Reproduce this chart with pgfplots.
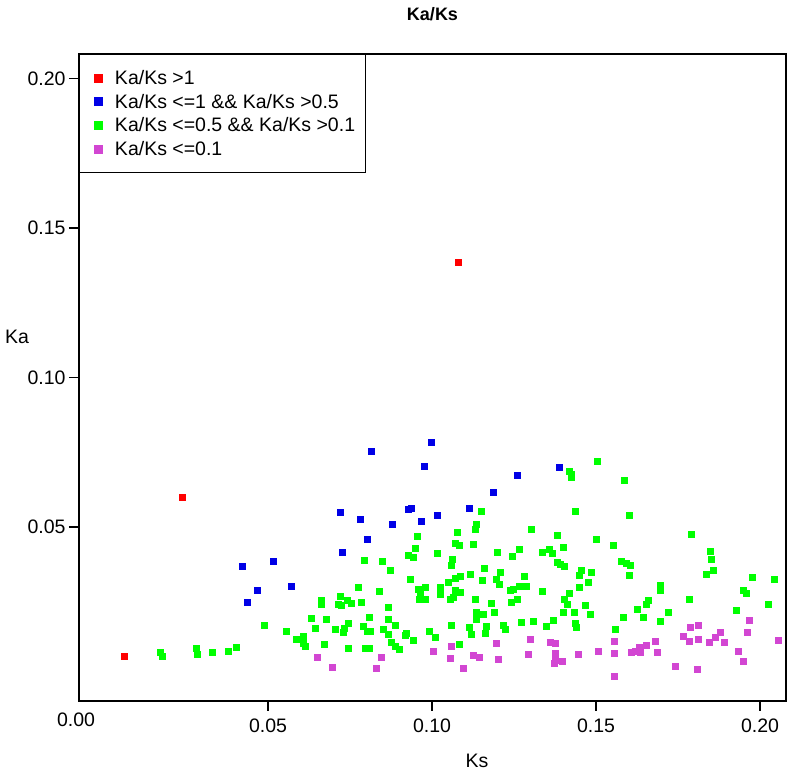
\documentclass[border=0pt]{standalone}
\usepackage{fontspec}
\setmainfont{Liberation Sans}
\usepackage{pgfplots}
\pgfplotsset{compat=1.18}
\definecolor{cred}{RGB}{255,0,0}
\definecolor{cblue}{RGB}{0,0,230}
\definecolor{cgreen}{RGB}{0,255,0}
\definecolor{cmag}{RGB}{210,70,210}
\newcommand{\f}{\fontsize{19.5}{23}\selectfont}
\begin{document}
\begin{tikzpicture}
\path[use as bounding box] (-79pt,-74pt) rectangle (714pt,701pt);
\begin{axis}[
  scale only axis, width=707pt, height=647pt,
  xmin=-0.00762, xmax=0.20793, ymin=-0.00819, ymax=0.20819,
  axis line style={line width=1.4pt},
  tick align=outside, tick pos=left,
  major tick length=10pt,
  every tick/.style={black, line width=1.2pt},
  xtick={0.05,0.1,0.15,0.2}, xticklabels={0.05,0.10,0.15,0.20},
  ytick={0.05,0.1,0.15,0.2}, yticklabels={0.05,0.10,0.15,0.20},
  extra x ticks={-0.00762}, extra x tick labels={0.00},
  extra x tick style={major tick length=0pt, xticklabel style={yshift=-4pt, xshift=-3pt}},
  tick label style={font=\f},
  xticklabel style={yshift=-4pt},
  every axis x label/.style={at={(rel axis cs:0.563,0)}, anchor=center, yshift=-59.5pt, font=\f},
  every axis y label/.style={at={(rel axis cs:0,0.5626)}, anchor=center, xshift=-62pt, font=\f},
  every axis title/.style={at={(rel axis cs:0.5,1)}, anchor=center, yshift=40pt, font=\bfseries\fontsize{18}{20}\selectfont},
  xlabel={Ks}, ylabel={Ka}, title={Ka/Ks},
  legend cell align=left,
  legend style={at={(rel axis cs:0,1)}, anchor=north west, draw=black, line width=1.2pt,
    font=\f, inner xsep=10pt, inner ysep=13pt, row sep=2.6pt,
    nodes={inner sep=0pt, text height=17pt, text depth=4pt},
    /tikz/every odd column/.append style={column sep=13pt}},
  legend image code/.code={\path (-8pt,0pt) (4pt,0pt); \draw[#1, mark size=4pt, line width=0.4pt] plot coordinates {(0pt,0pt)};},
  every axis plot/.append style={only marks, mark=square*, mark size=3pt, line width=0.4pt},
]
\addplot[cred, mark options={fill=cred, draw=cred}] coordinates {
(0.0063,0.0068) (0.0237,0.0598) (0.1079,0.1386)
};
\addlegendentry{Ka/Ks >1}
\addplot[cblue, mark options={fill=cblue, draw=cblue}] coordinates {
(0.0998,0.0785) (0.0816,0.0753) (0.0975,0.0704) (0.1260,0.0672) (0.1187,0.0617)
(0.0720,0.0549) (0.0780,0.0527) (0.0928,0.0561) (0.0938,0.0564) (0.0880,0.0510)
(0.0967,0.0520) (0.1015,0.0540) (0.1114,0.0564) (0.0801,0.0460) (0.0727,0.0417)
(0.1387,0.0701) (0.0422,0.0370) (0.0515,0.0386) (0.0466,0.0289) (0.0571,0.0303)
(0.0437,0.0248)
};
\addlegendentry{Ka/Ks <=1 \&\& Ka/Ks >0.5}
\addplot[cgreen, mark options={fill=cgreen, draw=cgreen}] coordinates {
(0.0171,0.0081) (0.0176,0.0069) (0.0280,0.0094) (0.0284,0.0075) (0.0329,0.0080)
(0.0378,0.0084) (0.0403,0.0099) (0.0489,0.0171) (0.0554,0.0150) (0.0586,0.0125)
(0.0607,0.0136) (0.0607,0.0110) (0.0614,0.0102) (0.0633,0.0196) (0.0644,0.0163)
(0.0663,0.0254) (0.0661,0.0242) (0.0676,0.0193) (0.0672,0.0107) (0.0720,0.0267)
(0.0713,0.0242) (0.0724,0.0238) (0.0740,0.0254) (0.0755,0.0245) (0.0704,0.0158)
(0.0731,0.0160) (0.0729,0.0149) (0.0745,0.0177) (0.0745,0.0096) (0.0776,0.0298)
(0.0784,0.0249) (0.0793,0.0390) (0.0809,0.0197) (0.0789,0.0167) (0.0801,0.0150)
(0.0813,0.0150) (0.0796,0.0094) (0.0809,0.0096) (0.0839,0.0284) (0.0848,0.0385)
(0.0873,0.0354) (0.0866,0.0233) (0.0866,0.0193) (0.0850,0.0159) (0.0866,0.0142)
(0.0888,0.0170) (0.0875,0.0116) (0.0888,0.0100) (0.0899,0.0091) (0.0917,0.0138)
(0.0920,0.0144) (0.0944,0.0123) (0.0933,0.0326) (0.0959,0.0291) (0.0965,0.0275)
(0.0962,0.0259) (0.0979,0.0258) (0.0980,0.0298) (0.0990,0.0152) (0.1009,0.0133)
(0.1024,0.0297) (0.1025,0.0274) (0.1050,0.0314) (0.1070,0.0328) (0.1085,0.0334)
(0.1070,0.0289) (0.1086,0.0283) (0.1054,0.0257) (0.1065,0.0264) (0.1059,0.0173)
(0.1084,0.0108) (0.1113,0.0165) (0.1121,0.0142) (0.1131,0.0257) (0.1134,0.0215)
(0.1156,0.0209) (0.1134,0.0193) (0.1179,0.0245) (0.1191,0.0215) (0.1164,0.0169)
(0.1161,0.0145) (0.1216,0.0170) (0.1222,0.0157) (0.1272,0.0180) (0.1310,0.0185)
(0.1349,0.0167) (0.1369,0.0188) (0.1437,0.0177) (0.1441,0.0166) (0.1118,0.0343)
(0.1158,0.0361) (0.1152,0.0323) (0.1207,0.0350) (0.1197,0.0325) (0.1206,0.0308)
(0.1280,0.0334) (0.1267,0.0303) (0.1288,0.0302) (0.1238,0.0288) (0.1247,0.0293)
(0.1242,0.0250) (0.1259,0.0259) (0.1335,0.0284) (0.1417,0.0280) (0.1448,0.0299)
(0.1449,0.0339) (0.1456,0.0355) (0.1485,0.0350) (0.1475,0.0316) (0.1403,0.0258)
(0.1411,0.0243) (0.1466,0.0237) (0.1399,0.0215) (0.1433,0.0215) (0.1482,0.0207)
(0.1697,0.0304) (0.1696,0.0288) (0.1659,0.0254) (0.1652,0.0243) (0.1627,0.0226)
(0.1721,0.0214) (0.1644,0.0199) (0.1695,0.0185) (0.1582,0.0198) (0.1560,0.0159)
(0.1784,0.0258) (0.1975,0.0333) (0.2043,0.0326) (0.1948,0.0288) (0.1957,0.0278)
(0.2026,0.0241) (0.1928,0.0221) (0.1849,0.0420) (0.1852,0.0391) (0.1856,0.0355)
(0.1835,0.0341) (0.1578,0.0385) (0.1591,0.0379) (0.1604,0.0371) (0.1601,0.0339)
(0.1381,0.0381) (0.1392,0.0374) (0.1402,0.0369) (0.1399,0.0432) (0.1335,0.0417)
(0.1358,0.0427) (0.1368,0.0414) (0.1267,0.0426) (0.1244,0.0401) (0.1198,0.0417)
(0.1061,0.0391) (0.1058,0.0372) (0.1017,0.0411) (0.0928,0.0405) (0.0943,0.0399)
(0.0949,0.0430) (0.1127,0.0441) (0.1070,0.0447) (0.1082,0.0439) (0.0956,0.0468)
(0.1077,0.0482) (0.1135,0.0510) (0.1133,0.0494) (0.1151,0.0553) (0.1303,0.0492)
(0.1381,0.0473) (0.1502,0.0458) (0.1553,0.0440) (0.1790,0.0476) (0.1437,0.0552)
(0.1601,0.0539) (0.1585,0.0656) (0.1418,0.0687) (0.1423,0.0675) (0.1425,0.0665)
(0.1504,0.0721)
};
\addlegendentry{Ka/Ks <=0.5 \&\& Ka/Ks >0.1}
\addplot[cmag, mark options={fill=cmag, draw=cmag}] coordinates {
(0.0651,0.0064) (0.0695,0.0030) (0.0829,0.0028) (0.0845,0.0063) (0.1003,0.0086)
(0.1058,0.0103) (0.1054,0.0060) (0.1095,0.0029) (0.1125,0.0070) (0.1144,0.0066)
(0.1196,0.0112) (0.1201,0.0057) (0.1299,0.0126) (0.1292,0.0074) (0.1359,0.0115)
(0.1377,0.0110) (0.1377,0.0079) (0.1375,0.0056) (0.1372,0.0043) (0.1398,0.0051)
(0.1446,0.0076) (0.1507,0.0084) (0.1557,0.0118) (0.1557,0.0079) (0.1554,0.0001)
(0.1608,0.0082) (0.1621,0.0086) (0.1633,0.0098) (0.1636,0.0082) (0.1652,0.0105)
(0.1680,0.0119) (0.1686,0.0080) (0.1743,0.0033) (0.1765,0.0135) (0.1786,0.0165)
(0.1784,0.0119) (0.1813,0.0172) (0.1813,0.0125) (0.1810,0.0026) (0.1845,0.0116)
(0.1863,0.0133) (0.1880,0.0148) (0.1892,0.0116) (0.1935,0.0085) (0.1950,0.0051)
(0.1968,0.0187) (0.1961,0.0147) (0.2056,0.0123)
};
\addlegendentry{Ka/Ks <=0.1}
\end{axis}
\end{tikzpicture}
\end{document}
